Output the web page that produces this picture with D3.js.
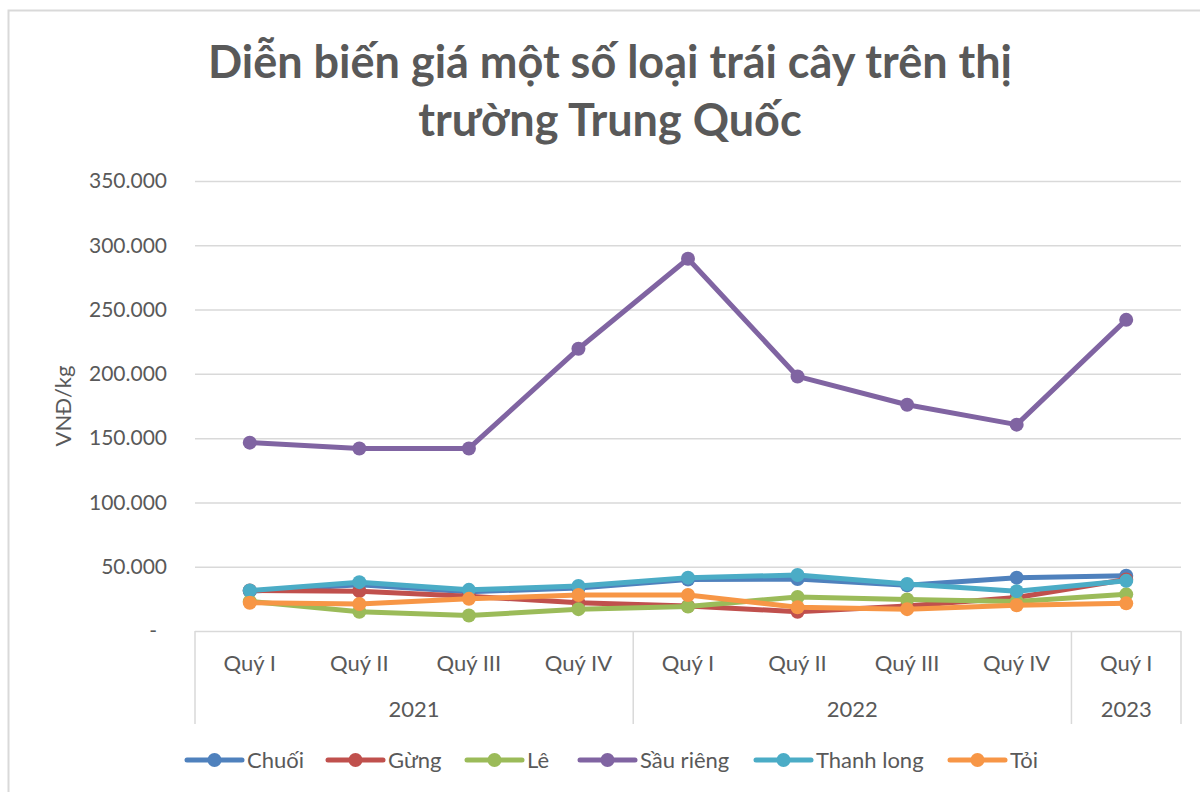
<!DOCTYPE html>
<html><head><meta charset="utf-8">
<script src="https://cdn.jsdelivr.net/npm/d3@7"></script>
<style>body{margin:0;background:#fff}svg{display:block}text{font-family:Lato,"Open Sans",sans-serif;fill:#595959}</style>
</head><body>
<svg id="c" width="1200" height="792"></svg>
<script>
const quarters = ["Quý I","Quý II","Quý III","Quý IV","Quý I","Quý II","Quý III","Quý IV","Quý I"];
const years = [{label:"2021",n:4},{label:"2022",n:4},{label:"2023",n:1}];
const seriesNames = ["Chuối","Gừng","Lê","Sầu riêng","Thanh long","Tỏi"];
const chuoi     = [31000,36000,30500,33500,40000,40500,35500,41500,43000];
const gung      = [31500,31000,27000,22000,19500,15000,19500,26000,40000];
const le        = [23000,15000,12000,17000,19000,26500,24500,23000,28500];
const sauRieng  = [146500,142000,142000,219500,289500,198000,176000,160500,242000];
const thanhLong = [31500,38000,32000,35000,41500,43500,36500,31000,39000];
const toi       = [22000,21000,25000,28000,28000,18500,17000,20000,21500];
const yTicks = [0,50000,100000,150000,200000,250000,300000,350000];
const colors = ["#4F81BD","#C0504D","#9BBB59","#8064A2","#4BACC6","#F79646"];
const seriesData = [chuoi,gung,le,sauRieng,thanhLong,toi];

const svg = d3.select("#c");
svg.append("rect").attr("x",8.5).attr("y",10.5).attr("width",1200).attr("height",800)
  .attr("fill","none").attr("stroke","#d9d9d9").attr("stroke-width",2);

const L=195,R=1181,T=181,B=631;
const x = d3.scaleBand().domain(d3.range(quarters.length)).range([L,R]);
const y = d3.scaleLinear().domain([0,350000]).range([B,T]);

const title = svg.append("text").attr("text-anchor","middle").style("font-weight","bold").style("font-size","45px");
title.append("tspan").attr("x",610).attr("y",78).text("Diễn biến giá một số loại trái cây trên thị");
title.append("tspan").attr("x",610).attr("y",136).text("trường Trung Quốc");

svg.append("g").selectAll("line").data(yTicks.filter(d=>d>0)).join("line")
  .attr("x1",L).attr("x2",R).attr("y1",d=>y(d)+0.5).attr("y2",d=>y(d)+0.5)
  .attr("stroke","#d9d9d9").attr("stroke-width",1.5);

const fmt = d => d===0 ? "-" : d3.format(",")(d).replace(/,/g,".");
svg.append("g").selectAll("text").data(yTicks).join("text")
  .attr("x",d=>d===0?157:167).attr("y",d=>y(d)).attr("dy","0.35em")
  .attr("text-anchor","end").style("font-size","21px").text(fmt);

svg.append("text").attr("transform","translate(71,406) rotate(-90)")
  .attr("text-anchor","middle").style("font-size","22px").text("VNĐ/kg");

const ax = svg.append("g").attr("stroke","#d9d9d9").attr("stroke-width",1.5);
ax.append("line").attr("x1",L).attr("x2",R).attr("y1",B+0.5).attr("y2",B+0.5);
let idx=0;
const bounds=[0];
years.forEach(yr=>{idx+=yr.n;bounds.push(idx);});
bounds.forEach(b=>{
  const xx = b<quarters.length ? x(b) : R;
  ax.append("line").attr("x1",xx).attr("x2",xx).attr("y1",B).attr("y2",724);
});
svg.append("g").selectAll("text").data(quarters).join("text")
  .attr("x",(d,i)=>x(i)+x.bandwidth()/2).attr("y",663).attr("dy","0.35em")
  .attr("text-anchor","middle").style("font-size","22px").text(d=>d);
svg.append("g").selectAll("text").data(years).join("text")
  .attr("x",(d,i)=>{const a=x(bounds[i]);const b=bounds[i+1]<quarters.length?x(bounds[i+1]):R;return (a+b)/2;})
  .attr("y",709).attr("dy","0.35em").attr("text-anchor","middle").style("font-size","22px").text(d=>d.label);

const line = d3.line().x((d,i)=>x(i)+x.bandwidth()/2).y(d=>y(d));
seriesData.forEach((s,k)=>{
  const g = svg.append("g");
  g.append("path").datum(s).attr("d",line).attr("fill","none")
    .attr("stroke",colors[k]).attr("stroke-width",5).attr("stroke-linejoin","round");
  g.selectAll("circle").data(s).join("circle")
    .attr("cx",(d,i)=>x(i)+x.bandwidth()/2).attr("cy",d=>y(d)).attr("r",7).attr("fill",colors[k]);
});

const legX=[187,328,467,580,756,950];
const lg = svg.append("g");
seriesNames.forEach((n,k)=>{
  const g = lg.append("g").attr("transform",`translate(${legX[k]},760)`);
  g.append("line").attr("x1",0).attr("x2",55).attr("y1",0).attr("y2",0)
    .attr("stroke",colors[k]).attr("stroke-width",5).attr("stroke-linecap","round");
  g.append("circle").attr("cx",27.5).attr("cy",0).attr("r",7).attr("fill",colors[k]);
  g.append("text").attr("x",60).attr("y",0).attr("dy","0.35em").style("font-size","22px").text(n);
});
</script>
</body></html>
